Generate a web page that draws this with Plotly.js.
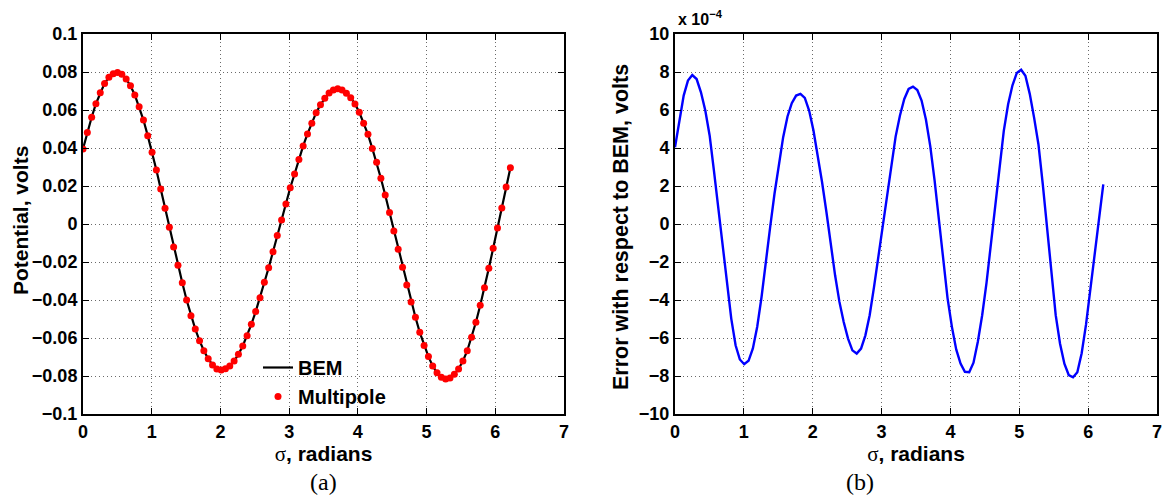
<!DOCTYPE html>
<html>
<head>
<meta charset="utf-8">
<script src="https://cdn.plot.ly/plotly-3.0.1.min.js"></script>
<style>html,body{margin:0;padding:0;background:#fff;}#chart{width:1166px;height:499px;}</style>
</head>
<body>
<div id="chart"></div>
<script>
// sigma, radians (sample positions)
const sigma = [0.000,0.063,0.126,0.188,0.251,0.314,0.377,0.440,0.503,0.565,
0.628,0.691,0.754,0.817,0.880,0.942,1.005,1.068,1.131,1.194,
1.257,1.319,1.382,1.445,1.508,1.571,1.634,1.696,1.759,1.822,
1.885,1.948,2.011,2.073,2.136,2.199,2.262,2.325,2.388,2.450,
2.513,2.576,2.639,2.702,2.765,2.827,2.890,2.953,3.016,3.079,
3.142,3.204,3.267,3.330,3.393,3.456,3.519,3.581,3.644,3.707,
3.770,3.833,3.896,3.958,4.021,4.084,4.147,4.210,4.273,4.335,
4.398,4.461,4.524,4.587,4.650,4.712,4.775,4.838,4.901,4.964,
5.027,5.089,5.152,5.215,5.278,5.341,5.404,5.466,5.529,5.592,
5.655,5.718,5.781,5.843,5.906,5.969,6.032,6.095,6.158,6.220];

// Potential, volts (BEM / Multipole)
const potential = [0.0395,0.0482,0.0562,0.0633,0.0691,0.0740,0.0772,0.0791,0.0798,0.0788,
0.0763,0.0728,0.0679,0.0617,0.0547,0.0465,0.0377,0.0284,0.0184,0.0083,
-0.0017,-0.0121,-0.0217,-0.0309,-0.0400,-0.0483,-0.0553,-0.0614,-0.0667,-0.0709,
-0.0742,-0.0763,-0.0768,-0.0762,-0.0747,-0.0721,-0.0686,-0.0642,-0.0588,-0.0528,
-0.0461,-0.0388,-0.0307,-0.0230,-0.0146,-0.0061,0.0021,0.0105,0.0191,0.0263,
0.0340,0.0411,0.0474,0.0530,0.0586,0.0628,0.0662,0.0689,0.0705,0.0712,
0.0705,0.0688,0.0665,0.0632,0.0588,0.0530,0.0472,0.0398,0.0325,0.0241,
0.0153,0.0060,-0.0037,-0.0133,-0.0228,-0.0321,-0.0411,-0.0491,-0.0570,-0.0639,
-0.0698,-0.0747,-0.0783,-0.0807,-0.0816,-0.0811,-0.0791,-0.0763,-0.0721,-0.0667,
-0.0596,-0.0517,-0.0428,-0.0335,-0.0233,-0.0128,-0.0021,0.0084,0.0195,0.0296];

// Error with respect to BEM, in units of 1e-4 volts
const errorE4 = [4.04,5.53,6.76,7.55,7.84,7.63,6.93,5.97,4.66,2.82,
0.89,-1.12,-3.14,-4.98,-6.38,-7.13,-7.38,-7.20,-6.55,-5.41,
-3.84,-1.91,-0.16,1.59,3.17,4.57,5.66,6.36,6.76,6.85,
6.64,5.97,4.92,3.66,2.20,0.63,-1.12,-2.70,-4.10,-5.16,
-6.03,-6.65,-6.82,-6.56,-5.86,-4.80,-3.32,-1.74,-0.07,1.63,
3.20,4.60,5.71,6.58,7.11,7.23,7.05,6.50,5.50,4.10,
2.30,0.20,-2.00,-3.90,-5.40,-6.60,-7.35,-7.78,-7.80,-7.30,
-6.20,-4.80,-3.10,-1.10,1.05,3.15,4.90,6.30,7.30,7.95,
8.12,7.80,6.85,5.60,4.20,2.10,-0.20,-2.80,-4.80,-6.30,
-7.35,-7.95,-8.07,-7.80,-6.80,-5.30,-3.50,-1.50,0.35,2.09];

const seriesNames = ["BEM", "Multipole"];
const xTitle = '<span style="font-family:\'Liberation Serif\';font-weight:normal">σ</span>, radians';
const yTitleA = "Potential, volts";
const yTitleB = "Error with respect to BEM, volts";

const W = 1166, H = 499;
const px = v => v / W, py = v => 1 - v / H;
const FAM = "Liberation Sans, Arial, sans-serif";

const tickFont = {family: FAM, size: 18, color: "#000", weight: "bold"};
const xTitleFont = {family: FAM, size: 21, color: "#000", weight: "bold"};

function axisBase(extra) {
  return Object.assign({
    showline: true, linecolor: "#000", linewidth: 2, mirror: "ticks",
    ticks: "inside", ticklen: 6, tickwidth: 1, tickcolor: "#000",
    showgrid: true, gridcolor: "#6a6a6a", gridwidth: 1, griddash: "1px,3px",
    zeroline: false, tickfont: tickFont, automargin: false
  }, extra);
}

const data = [
  {x: sigma, y: potential, type: "scatter", mode: "lines", name: seriesNames[0],
   line: {color: "#000", width: 2.2}, xaxis: "x", yaxis: "y"},
  {x: sigma, y: potential, type: "scatter", mode: "markers", name: seriesNames[1],
   marker: {color: "#ff0000", size: 7}, xaxis: "x", yaxis: "y"},
  {x: sigma, y: errorE4, type: "scatter", mode: "lines", showlegend: false,
   line: {color: "#0000ff", width: 2.4}, xaxis: "x2", yaxis: "y2"}
];

const layout = {
  width: W, height: H,
  margin: {l: 0, r: 0, t: 0, b: 0},
  paper_bgcolor: "#fff", plot_bgcolor: "#fff",
  showlegend: true,
  legend: {x: px(258), y: py(348), xanchor: "left", yanchor: "top",
    bgcolor: "rgba(0,0,0,0)", borderwidth: 0,
    font: {family: FAM, size: 20, color: "#000", weight: "bold"},
    tracegroupgap: 0, itemwidth: 30},
  xaxis: axisBase({domain: [px(83), px(564)], range: [0, 7], dtick: 1, tick0: 0, anchor: "y",
    title: {text: xTitle, font: xTitleFont, standoff: 0}}),
  yaxis: axisBase({domain: [py(414), py(34)], range: [-0.1, 0.1], dtick: 0.02, tick0: 0, anchor: "x"}),
  xaxis2: axisBase({domain: [px(675), px(1157)], range: [0, 7], dtick: 1, tick0: 0, anchor: "y2",
    title: {text: xTitle, font: xTitleFont, standoff: 0}}),
  yaxis2: axisBase({domain: [py(414), py(34)], range: [-10, 10], dtick: 2, tick0: 0, anchor: "x2"}),
  annotations: [
    {text: yTitleA, textangle: -90, xref: "paper", yref: "paper", x: px(20), y: py(221),
     xanchor: "center", yanchor: "middle", showarrow: false,
     font: {family: FAM, size: 21, color: "#000", weight: "bold"}},
    {text: yTitleB, textangle: -90, xref: "paper", yref: "paper", x: px(621), y: py(227),
     xanchor: "center", yanchor: "middle", showarrow: false,
     font: {family: FAM, size: 21.5, color: "#000", weight: "bold"}},
    {text: "x 10<sup>−4</sup>", xref: "paper", yref: "paper", x: px(676), y: py(30),
     xanchor: "left", yanchor: "bottom", showarrow: false,
     font: {family: FAM, size: 16, color: "#000", weight: "bold"}},
    {text: "(a)", xref: "paper", yref: "paper", x: px(323), y: py(482),
     xanchor: "center", yanchor: "middle", showarrow: false,
     font: {family: "Liberation Serif, serif", size: 24, color: "#000"}},
    {text: "(b)", xref: "paper", yref: "paper", x: px(860), y: py(482),
     xanchor: "center", yanchor: "middle", showarrow: false,
     font: {family: "Liberation Serif, serif", size: 24, color: "#000"}}
  ]
};

Plotly.newPlot("chart", data, layout, {displayModeBar: false, staticPlot: true});
</script>
</body>
</html>
